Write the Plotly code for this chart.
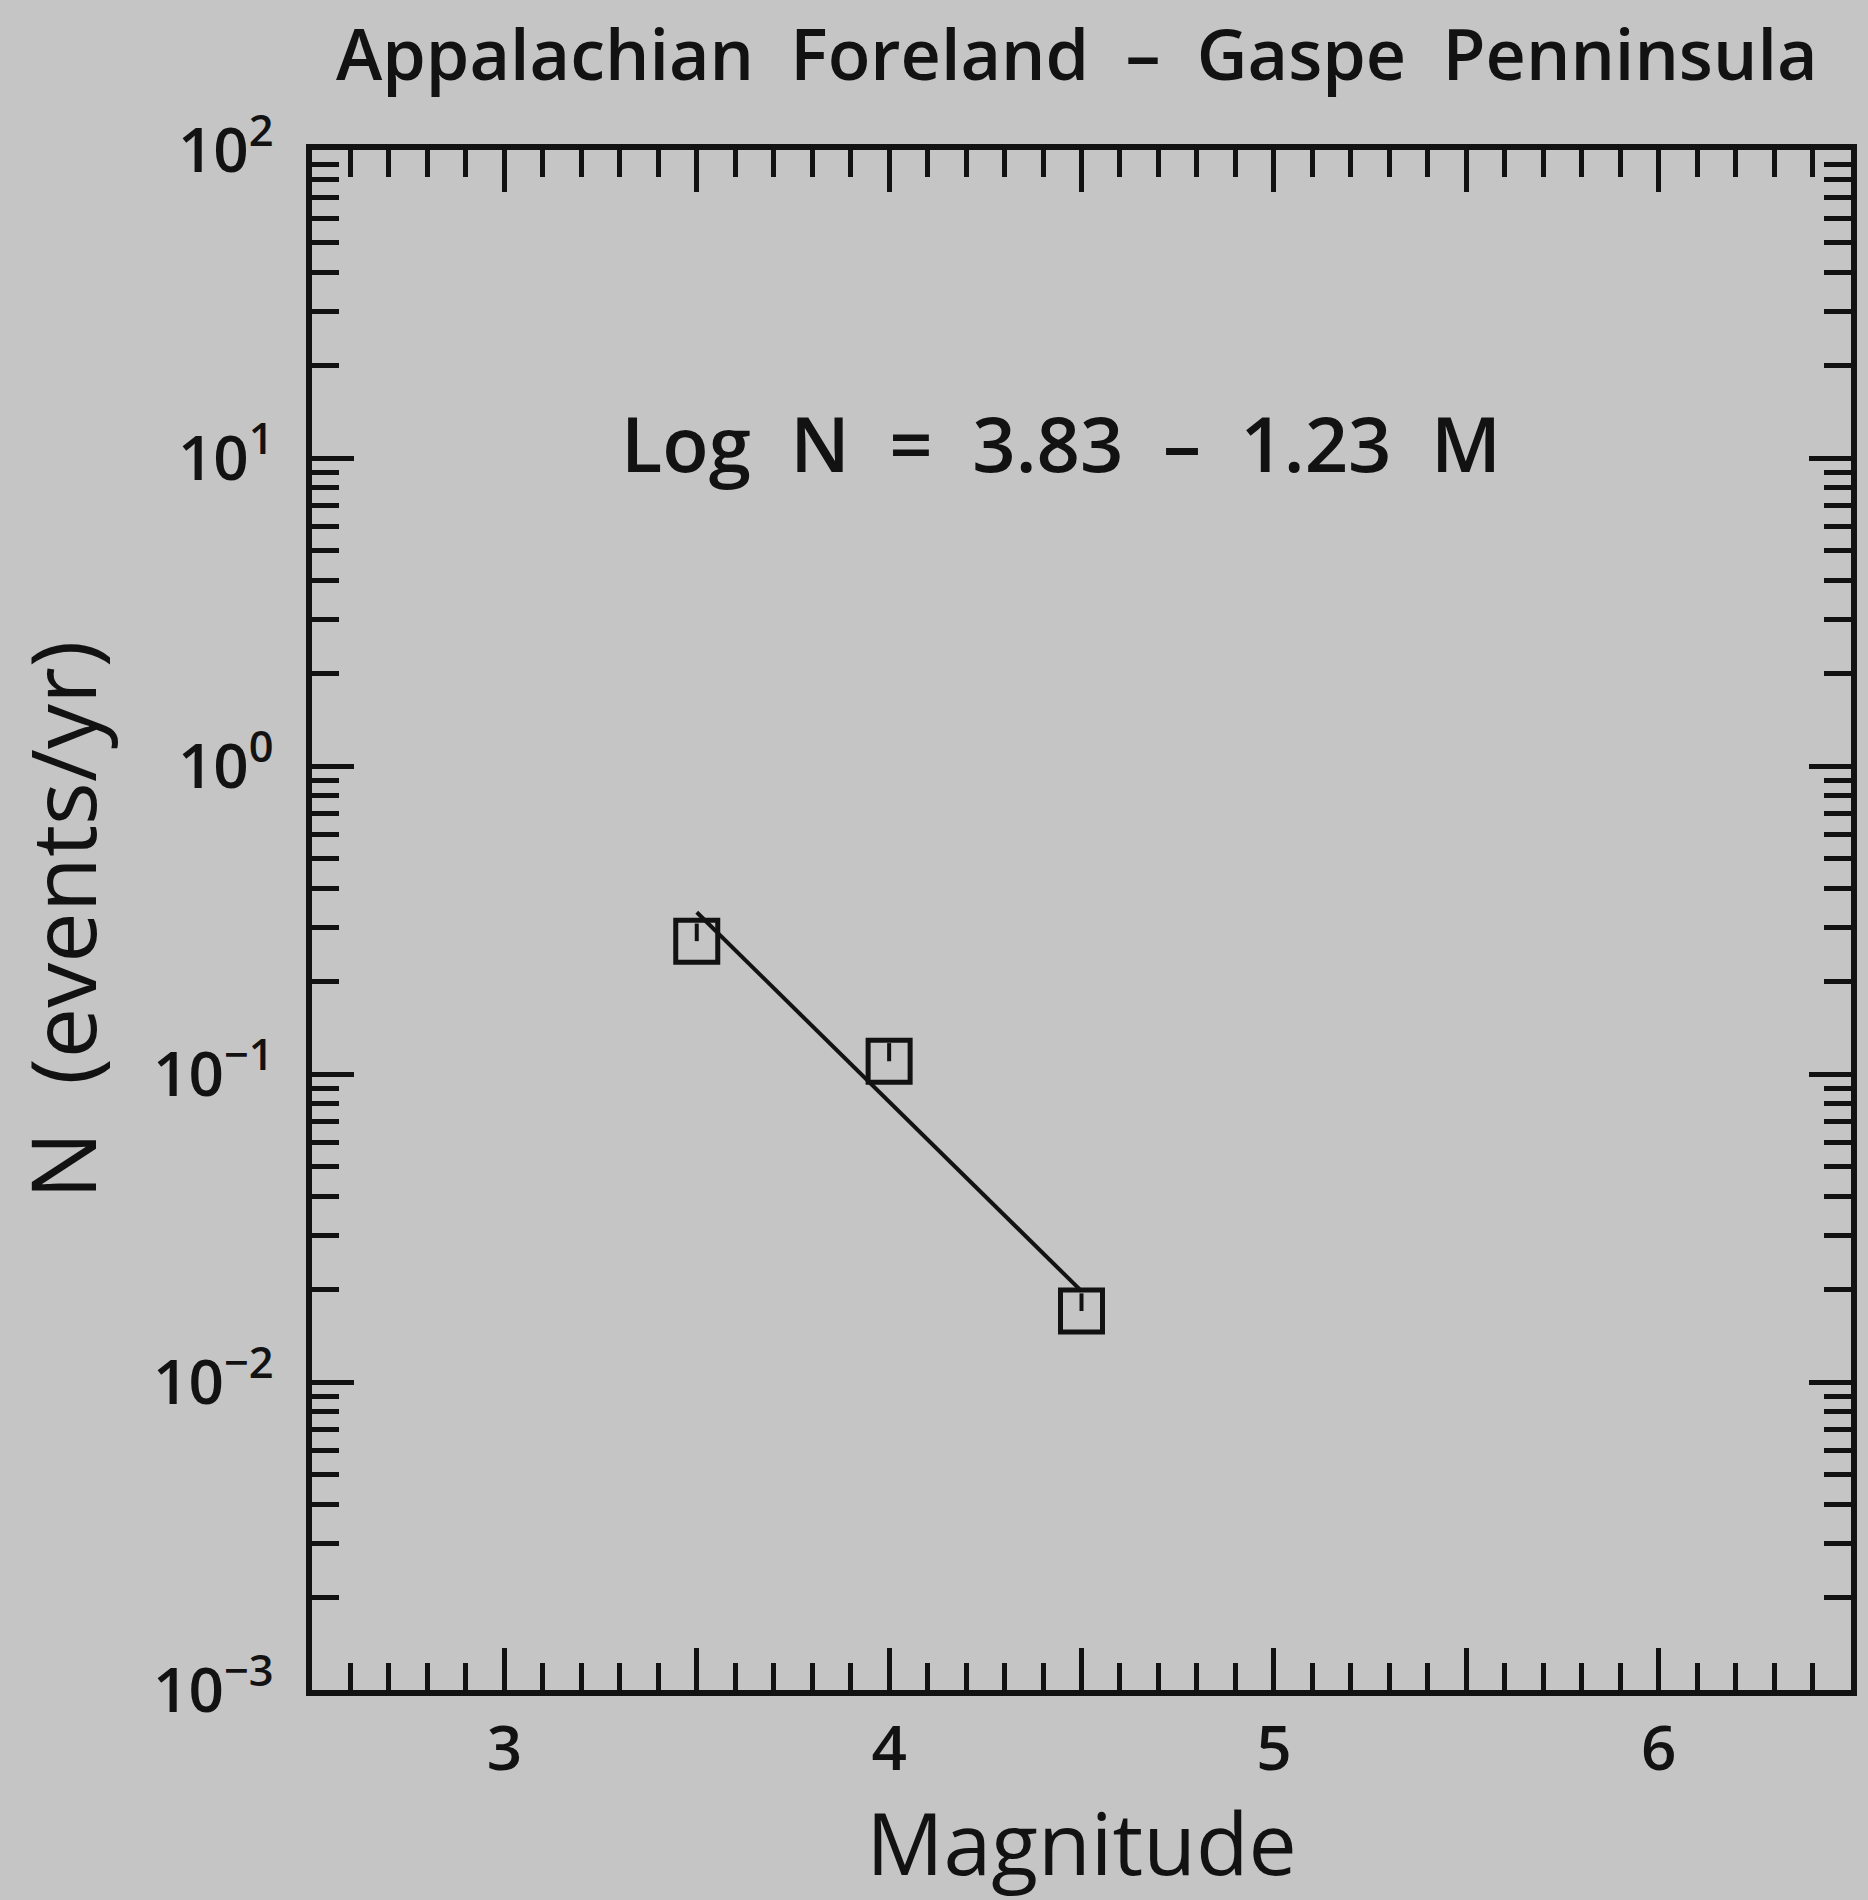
import plotly.graph_objects as go

# Observed annual rates of events by magnitude bin
magnitude = [3.5, 4.0, 4.5]
rate = [0.27, 0.11, 0.017]
rate_err_upper = [0.038, 0.016, 0.0024]

# Gutenberg-Richter fit: log N = a - b M
fit_a = 3.83
fit_b = 1.23
fit_m = [3.5, 4.5]

# Axis ticks
x_tickvals = [3, 3.5, 4, 4.5, 5, 5.5, 6]
x_ticktext = ["3", " ", "4", " ", "5", " ", "6"]
y_tickvals = [1e-3, 1e-2, 1e-1, 1e0, 1e1, 1e2]
y_ticktext = ["10<sup>\u22123</sup>", "10<sup>\u22122</sup>", "10<sup>\u22121</sup>",
              "10<sup>0</sup>", "10<sup>1</sup>", "10<sup>2</sup>"]
y_minor = [k * 10.0 ** e for e in range(-3, 2) for k in range(2, 10)]

title_text = "Appalachian\u00a0\u00a0Foreland\u00a0\u00a0\u2013\u00a0\u00a0Gaspe\u00a0\u00a0Penninsula"
eq_text = f"Log\u00a0\u00a0N\u00a0\u00a0=\u00a0\u00a0{fit_a:.2f}\u00a0\u00a0\u2013\u00a0\u00a0{fit_b:.2f}\u00a0\u00a0M"

INK = "#121212"
BG = "#c5c5c5"
FONT = "Open Sans"

fit_n = [10 ** (fit_a - fit_b * m) for m in fit_m]

fig = go.Figure()
fig.add_trace(go.Scatter(
    x=fit_m, y=fit_n, mode="lines",
    line=dict(color=INK, width=4),
    showlegend=False, hoverinfo="skip",
))
fig.add_trace(go.Scatter(
    x=magnitude, y=rate, mode="markers",
    marker=dict(symbol="square-open", size=42, color=INK, line=dict(color=INK, width=5)),
    error_y=dict(type="data", symmetric=False, array=rate_err_upper,
                 arrayminus=[0, 0, 0], width=0, thickness=4, color=INK),
    showlegend=False,
))

fig.add_annotation(
    text=title_text, xref="paper", yref="paper", x=0.497, y=1.063,
    xanchor="center", yanchor="middle", showarrow=False,
    font=dict(family=FONT, size=70, color=INK, weight=600),
)
fig.add_annotation(
    text=eq_text, xref="paper", yref="paper", x=0.487, y=0.81,
    xanchor="center", yanchor="middle", showarrow=False,
    font=dict(family=FONT, size=76, color=INK, weight=600),
)

fig.update_xaxes(
    range=[2.5, 6.5], tickmode="array", tickvals=x_tickvals, ticktext=x_ticktext,
    ticks="inside", ticklen=42, tickwidth=5, tickcolor=INK,
    minor=dict(ticks="inside", ticklen=27, tickwidth=5, tickcolor=INK,
               tickmode="linear", tick0=0, dtick=0.1, showgrid=False),
    showline=True, linewidth=6, linecolor=INK, mirror="allticks",
    showgrid=False, zeroline=False,
    tickfont=dict(family=FONT, size=62, color=INK, weight=600), ticklabelstandoff=0,
    title=dict(text="Magnitude", font=dict(family=FONT, size=86, color=INK), standoff=30),
)
fig.update_yaxes(
    type="log", range=[-3, 2], tickmode="array", tickvals=y_tickvals, ticktext=y_ticktext,
    ticks="inside", ticklen=42, tickwidth=5, tickcolor=INK,
    minor=dict(ticks="inside", ticklen=27, tickwidth=5, tickcolor=INK,
               tickmode="array", tickvals=y_minor, showgrid=False),
    showline=True, linewidth=6, linecolor=INK, mirror="allticks",
    showgrid=False, zeroline=False,
    tickfont=dict(family=FONT, size=62, color=INK, weight=600), ticklabelstandoff=20,
    title=dict(text="N\u00a0\u00a0(events/yr)", font=dict(family=FONT, size=90, color=INK), standoff=32),
)

fig.update_layout(
    width=1868, height=1900,
    margin=dict(l=312, r=17, t=150, b=210, pad=0),
    paper_bgcolor=BG, plot_bgcolor=BG,
)

fig.write_html("out.html")
